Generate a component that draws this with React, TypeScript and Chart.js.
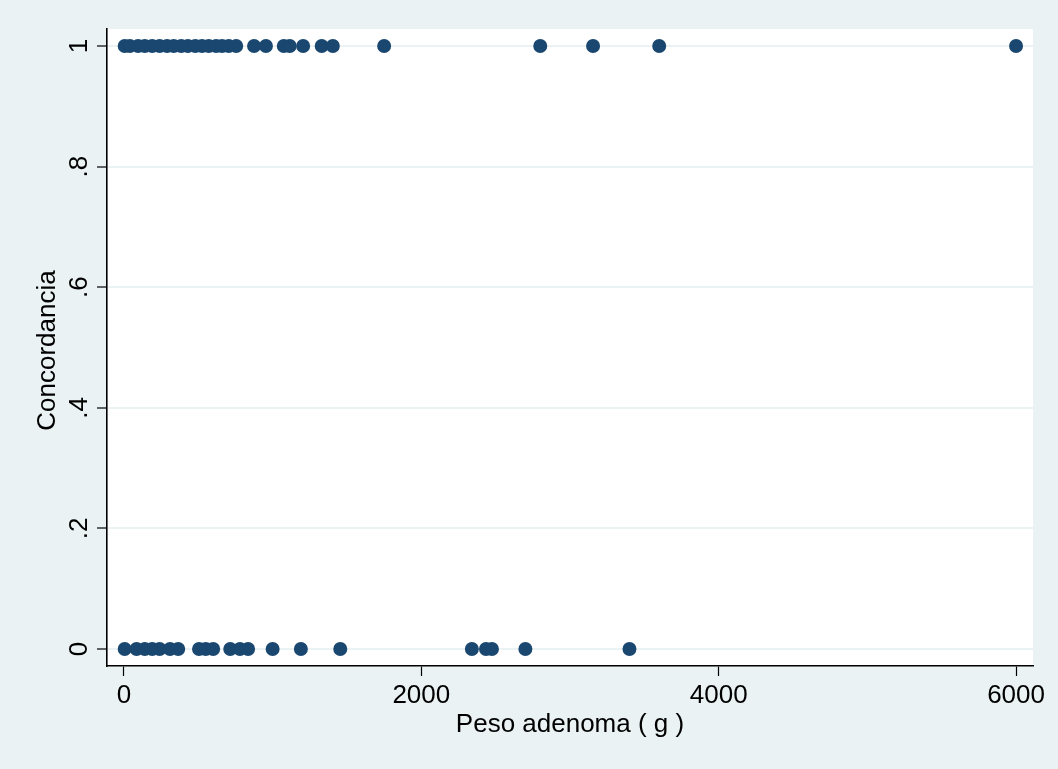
import React, { useEffect, useRef } from "react";
import { Chart, registerables } from "chart.js";

Chart.register(...registerables);

// Peso adenoma (g) for each observation, with its concordancia (0/1)
const pesoConcordante = [
  5, 40, 95, 140, 190, 240, 290, 335, 385, 430, 480, 525, 570, 620, 660, 705, 755,
  875, 955, 1075, 1115, 1205, 1330, 1405, 1750, 2800, 3155, 3600, 6000,
];
const pesoNoConcordante = [
  5, 85, 140, 190, 240, 310, 365, 505, 550, 600, 715, 780, 835, 1000, 1190, 1455,
  2340, 2435, 2475, 2700, 3400,
];
const pesoAdenoma = [...pesoConcordante, ...pesoNoConcordante];
const concordancia = [
  ...pesoConcordante.map(() => 1),
  ...pesoNoConcordante.map(() => 0),
];

const xTicks = [0, 2000, 4000, 6000];
const xTickLabels = ["0", "2000", "4000", "6000"];
const yTicks = [0, 0.2, 0.4, 0.6, 0.8, 1];
const yTickLabels = ["0", ".2", ".4", ".6", ".8", "1"];

const xTitle = "Peso adenoma ( g )";
const yTitle = "Concordancia";

const FONT = '26px "Liberation Sans", Arial, Helvetica, sans-serif';
const BG = "#eaf2f3";
const MARK = "#1a476f";

export default function App() {
  const ref = useRef<HTMLCanvasElement | null>(null);

  useEffect(() => {
    const canvas = ref.current;
    if (!canvas) return;

    const decor = {
      id: "decor",
      beforeDraw(chart: any) {
        const { ctx, chartArea } = chart;
        ctx.save();
        ctx.fillStyle = BG;
        ctx.fillRect(0, 0, chart.width, chart.height);
        ctx.fillStyle = "#ffffff";
        ctx.fillRect(
          chartArea.left,
          chartArea.top,
          chartArea.right - chartArea.left,
          chartArea.bottom - chartArea.top
        );
        ctx.restore();
      },
      afterDraw(chart: any) {
        const { ctx, chartArea } = chart;
        const xs = chart.scales.x;
        const ys = chart.scales.y;
        ctx.save();
        ctx.fillStyle = "#000000";
        ctx.font = FONT;
        ctx.textAlign = "center";
        ctx.textBaseline = "alphabetic";
        xTicks.forEach((v, i) => {
          ctx.fillText(xTickLabels[i], xs.getPixelForValue(v), 703);
        });
        ctx.fillText(xTitle, (chartArea.left + chartArea.right) / 2, 732);
        yTicks.forEach((v, i) => {
          ctx.save();
          ctx.translate(87, ys.getPixelForValue(v));
          ctx.rotate(-Math.PI / 2);
          ctx.fillText(yTickLabels[i], 0, 0);
          ctx.restore();
        });
        ctx.save();
        ctx.translate(55, (chartArea.top + chartArea.bottom) / 2 + 3);
        ctx.rotate(-Math.PI / 2);
        ctx.fillText(yTitle, 0, 0);
        ctx.restore();
        ctx.restore();
      },
    };

    const chart = new Chart(canvas, {
      type: "scatter",
      data: {
        datasets: [
          {
            data: pesoAdenoma.map((x, i) => ({ x, y: concordancia[i] })),
            backgroundColor: MARK,
            borderColor: MARK,
            borderWidth: 0,
            pointRadius: 7,
            pointHoverRadius: 7,
          },
        ],
      },
      options: {
        responsive: false,
        animation: false,
        events: [],
        layout: { padding: { top: 29, right: 25, left: 0, bottom: 0 } },
        plugins: {
          legend: { display: false },
          tooltip: { enabled: false },
        },
        scales: {
          x: {
            type: "linear",
            min: -114,
            max: 6114,
            afterFit(s: any) {
              s.height = 103;
            },
            afterBuildTicks(s: any) {
              s.ticks = xTicks.map((value) => ({ value }));
            },
            ticks: { display: false },
            grid: {
              drawOnChartArea: false,
              drawTicks: true,
              tickLength: 10,
              tickColor: "#000000",
              tickWidth: 1.2,
            },
            border: { display: true, color: "#000000", width: 1.6 },
          },
          y: {
            type: "linear",
            min: -0.0282,
            max: 1.0282,
            afterFit(s: any) {
              s.width = 107;
            },
            afterBuildTicks(s: any) {
              s.ticks = yTicks.map((value) => ({ value }));
            },
            ticks: { display: false },
            grid: {
              color: BG,
              lineWidth: 2,
              drawTicks: true,
              tickLength: 10,
              tickColor: "#000000",
              tickWidth: 1.2,
            },
            border: { display: true, color: "#000000", width: 1.6 },
          },
        },
      },
      plugins: [decor],
    });

    return () => chart.destroy();
  }, []);

  return (
    <div style={{ position: "absolute", left: 0, top: 0, width: 1058, height: 769 }}>
      <canvas ref={ref} width={1058} height={769} style={{ display: "block" }} />
    </div>
  );
}
